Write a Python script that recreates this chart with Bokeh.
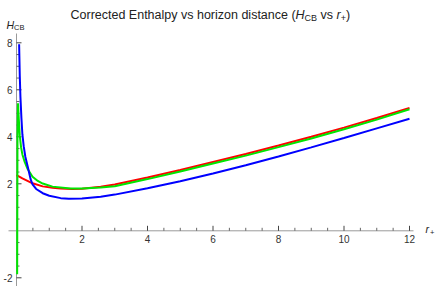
from bokeh.plotting import figure
from bokeh.models import Label, Range1d
from bokeh.core.properties import value
from bokeh.embed import file_html
from bokeh.resources import INLINE

# ---- data ----
r_red = [0.0, 0.18, 0.49, 0.8, 1.1, 1.35, 1.7, 2.0, 2.57, 3.0, 4.0, 5.0, 6.0, 7.0, 8.0, 9.0, 10.0, 11.0, 12.0]
h_red = [2.37, 2.23, 2.02, 1.89, 1.83, 1.80, 1.78, 1.79, 1.87, 1.97, 2.27, 2.59, 2.93, 3.27, 3.63, 4.00, 4.39, 4.80, 5.23]

r_green = [0.02, 0.03, 0.045, 0.07, 0.1, 0.14, 0.18, 0.25, 0.34, 0.49, 0.65, 0.8, 1.1, 1.65, 2.0, 2.57, 3.0,
           4.0, 5.0, 6.0, 7.0, 8.0, 9.0, 10.0, 11.0, 12.0]
h_green = [-1.85, 4.0, 5.43, 4.75, 4.05, 3.55, 3.25, 2.93, 2.63, 2.30, 2.12, 2.01, 1.88, 1.80, 1.80, 1.84, 1.90,
           2.20, 2.52, 2.86, 3.20, 3.56, 3.93, 4.32, 4.73, 5.17]

r_blue = [0.08, 0.1, 0.12, 0.15, 0.18, 0.22, 0.27, 0.34, 0.43, 0.49, 0.6, 0.8, 1.0, 1.35, 1.6, 2.0, 2.57, 3.0,
          4.0, 5.0, 6.0, 7.0, 8.0, 9.0, 10.0, 11.0, 12.0]
h_blue = [7.94, 6.6, 5.7, 4.8, 4.1, 3.6, 3.15, 2.75, 2.2, 1.98, 1.78, 1.60, 1.49, 1.39, 1.36, 1.37, 1.45, 1.54,
          1.81, 2.11, 2.44, 2.79, 3.16, 3.55, 3.95, 4.36, 4.77]

x_major = [2, 4, 6, 8, 10, 12]
x_labels = ["2", "4", "6", "8", "10", "12"]
y_major = [-2, 2, 4, 6, 8]
y_labels = ["-2", "2", "4", "6", "8"]
x_minor = [0.5 * k for k in range(1, 25) if (0.5 * k) % 2 != 0]
y_minor = [0.5 * k for k in range(-4, 17) if (0.5 * k) % 2 != 0]

NB = "\u00a0"
title_parts = ["Corrected Enthalpy vs horizon distance (", "H", "CB", NB + "vs" + NB, "r", "+", ")"]

# ---- layout geometry (pixels in figure) ----
W, H = 436, 286
PX_PER_X = 32.75
X0_PX = 16.0          # pixel of r = 0
PX_PER_Y = 23.5
Y0_PX = 230.3         # pixel (from top) of H = 0

x_start = -X0_PX / PX_PER_X
x_end = (W - X0_PX) / PX_PER_X
y_top = Y0_PX / PX_PER_Y
y_bot = -(H - Y0_PX) / PX_PER_Y

def dx(px):
    return px / PX_PER_X

def dy(px):
    return px / PX_PER_Y

def X(px):
    return (px - X0_PX) / PX_PER_X

def Y(py):
    return (Y0_PX - py) / PX_PER_Y

p = figure(width=W, height=H, output_backend="svg", toolbar_location=None,
           x_range=Range1d(x_start, x_end), y_range=Range1d(y_bot, y_top),
           x_axis_location=None, y_axis_location=None, title=None,
           min_border=0, min_border_left=0, min_border_right=0, min_border_top=0, min_border_bottom=0)
p.outline_line_color = None
p.grid.visible = False
p.background_fill_color = "white"
p.border_fill_color = "white"

AXIS_COL = "#9a9a9a"
TICK_COL = "#444444"
LAB_COL = "#333333"
FONT = "Liberation Sans"

# axes lines
p.segment(x0=[X(8)], y0=[0], x1=[X(413)], y1=[0], line_color=AXIS_COL, line_width=1)
p.segment(x0=[0], y0=[y_bot], x1=[0], y1=[Y(33)], line_color=AXIS_COL, line_width=1)

# ticks (pointing inward: up on x axis, right on y axis)
p.segment(x0=x_major, y0=[0] * len(x_major), x1=x_major, y1=[dy(5)] * len(x_major),
          line_color=TICK_COL, line_width=1)
p.segment(x0=x_minor, y0=[0] * len(x_minor), x1=x_minor, y1=[dy(3)] * len(x_minor),
          line_color="#666666", line_width=1)
p.segment(x0=[0] * len(y_major), y0=y_major, x1=[dx(5)] * len(y_major), y1=y_major,
          line_color=TICK_COL, line_width=1)
p.segment(x0=[0] * len(y_minor), y0=y_minor, x1=[dx(3)] * len(y_minor), y1=y_minor,
          line_color="#666666", line_width=1)

# tick labels
p.text(x=x_major, y=[-dy(4.5)] * len(x_major), text=x_labels, text_align="center", text_baseline="top",
       text_font=value(FONT), text_font_size="10px", text_color=LAB_COL)
p.text(x=[-dx(4)] * len(y_major), y=y_major, text=y_labels, text_align="right", text_baseline="middle",
       text_font=value(FONT), text_font_size="10px", text_color=LAB_COL)

# curves
p.line(r_red, h_red, line_color="#ff0000", line_width=2)
p.line(r_green, h_green, line_color="#00e600", line_width=2)
p.line(r_blue, h_blue, line_color="#0000ff", line_width=2)

# title built from pieces (italic symbols, subscripts)
WID = {'C': 722, 'o': 556, 'r': 333, 'e': 556, 'c': 500, 't': 278, 'd': 556, ' ': 278, NB: 278, 'E': 667,
       'n': 556, 'h': 556, 'a': 556, 'l': 222, 'p': 556, 'y': 500, 'v': 500, 's': 500, 'z': 500, 'i': 222,
       '(': 333, ')': 333, 'H': 722, 'B': 667, '+': 584}

def tw(s, size):
    return sum(WID.get(ch, 556) for ch in s) * size / 1000.0

TS, SS = 12.5, 9.0
styles = [("normal", TS, 0), ("italic", TS, 0), ("normal", SS, 3), ("normal", TS, 0),
          ("italic", TS, 0), ("normal", SS, 3), ("normal", TS, 0)]
cur = 70.0
base = 14.5
for txt, (st, sz, drop) in zip(title_parts, styles):
    p.add_layout(Label(x=X(cur), y=Y(base + drop), text=txt, text_font=FONT, text_font_size=f"{sz}px",
                       text_font_style=st, text_color="#222222", text_baseline="alphabetic",
                       text_align="left"))
    cur += tw(txt, sz)

# y-axis label H_CB
p.add_layout(Label(x=X(6), y=Y(24), text="H", text_font=FONT, text_font_size="10.5px",
                   text_font_style="italic", text_color="#222222", text_baseline="alphabetic"))
p.add_layout(Label(x=X(13.5), y=Y(27), text="CB", text_font=FONT, text_font_size="7.5px",
                   text_color="#222222", text_baseline="alphabetic"))
# x-axis label r_+
p.add_layout(Label(x=X(425), y=Y(228.5), text="r", text_font=FONT, text_font_size="10.5px",
                   text_font_style="italic", text_color="#222222", text_baseline="alphabetic"))
p.add_layout(Label(x=X(429.5), y=Y(231.5), text="+", text_font=FONT, text_font_size="7.5px",
                   text_color="#222222", text_baseline="alphabetic"))

open("out.html", "w").write(file_html(p, INLINE))
